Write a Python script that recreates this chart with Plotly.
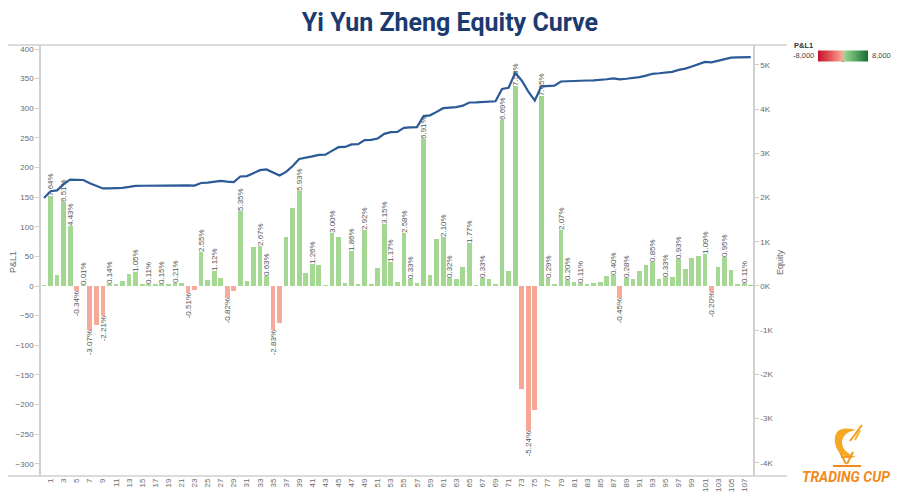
import numpy as np
import plotly.graph_objects as go

# ---------------- data ----------------
trade_idx = list(range(109))
pnl = [1, 152, 19, 141, 102, -8, 0.2, -74, -66, -50,
       3, 2, 9, 20, 23.5, 3, 2.5, 2, 3.4, 4,
       4.8, 5, -11.7, -6, 58, 10, 26, 14, -19.5, -9,
       126, 9, 66, 68, 16.5, -74.6, -63, 83, 131, 161,
       22, 36.5, 35, 1, 89, 83, 5, 58.5, 4, 93.7,
       4, 31, 105, 40, 6, 90, 11.8, 5, 248, 18,
       79, 82.7, 12.9, 12, 31.5, 72, 1, 13.7, 11, 2,
       280, 26, 338, -174, -244, -209, 321, 13, 3, 94,
       9.3, 6, 5.1, 2, 4.5, 7, 17, 18.7, -21, 13,
       12, 25, 35.4, 40.5, 12, 16, 16, 45, 28, 48,
       50, 54.7, -10, 31.5, 48.4, 27, 3.4, 5.7, 1]
start_equity = 1990

label_bars = [1, 3, 4, 5, 6, 7, 9, 10, 14, 16, 18, 20, 22, 24, 26, 28, 30, 33, 34, 35,
              39, 41, 44, 47, 49, 52, 53, 55, 56, 58, 61, 62, 65, 67, 70, 72, 74, 76, 77,
              79, 80, 82, 87, 88, 89, 93, 95, 97, 101, 102, 104, 107]
label_pcts = [7.64, 6.51, 4.43, -0.34, 0.01, -3.07, -2.21, 0.14, 1.05, 0.11, 0.15, 0.21,
              -0.51, 2.55, 1.12, -0.82, 5.35, 2.67, 0.63, -2.83, 5.93, 1.26, 3.00, 1.86,
              2.92, 3.15, 1.17, 2.58, 0.33, 6.91, 2.10, 0.32, 1.77, 0.33, 6.69, 7.53,
              -5.24, 7.65, 0.29, 2.07, 0.20, 0.11, 0.40, -0.45, 0.28, 0.85, 0.33, 0.93,
              1.09, -0.20, 0.95, 0.11]

x_tickvals = list(range(1, 108, 2))
x_ticktext = [str(v) for v in x_tickvals]
left_tickvals = list(range(-300, 401, 50))
right_tickvals = list(range(-4000, 5001, 1000))
right_ticktext = [f"{v // 1000}K" for v in right_tickvals]

equity = start_equity + np.cumsum(pnl)
bar_text = [""] * len(trade_idx)
for b, p in zip(label_bars, label_pcts):
    bar_text[b] = f"{p:.2f}%"

# ---------------- geometry helpers ----------------
# page body has an 8px margin, so the figure is drawn 8px in from the window edge
OFF = 8
W, H = 900 - 2 * OFF, 500 - 2 * OFF
L, R, T, B = 41 - OFF, 753 - OFF, 45 - OFF, 476 - OFF
def px(xp):  # window pixel -> paper x
    return (xp - OFF - L) / (R - L)
def py(yp):  # window pixel -> paper y
    return (B - (yp - OFF)) / (B - T)

FONT = "Liberation Sans, Arial, sans-serif"
GREY = "#6b6b6b"
AXC = "#cfcfcf"

colorscale = [[0.0, "#c3102c"], [0.25, "#e4575a"], [0.4999, "#f6ab9b"],
              [0.5, "#a6d993"], [0.75, "#57a862"], [1.0, "#1b6a32"]]

fig = go.Figure()
fig.add_trace(go.Bar(
    x=trade_idx, y=pnl, width=0.72, name="P&L1",
    marker=dict(color=pnl, colorscale=colorscale, cmin=-8000, cmax=8000,
                line=dict(width=0), showscale=True,
                colorbar=dict(orientation="h", xref="paper", yref="paper",
                              x=px(843), y=py(55.5), xanchor="center", yanchor="middle",
                              len=50, lenmode="pixels", thickness=11, thicknessmode="pixels",
                              outlinewidth=0, showticklabels=False, ticks="",
                              xpad=0, ypad=0)),
    text=bar_text, textposition="outside", textangle=-90,
    textfont=dict(family=FONT, size=8, color="#555555"),
    constraintext="none", cliponaxis=False, yaxis="y",
))
fig.add_trace(go.Scatter(
    x=trade_idx, y=equity, mode="lines", name="Equity",
    line=dict(color="#2c5a96", width=2.2), yaxis="y2",
))

shapes = [
    dict(type="line", xref="paper", yref="paper", x0=px(8), x1=px(787), y0=1, y1=1,
         line=dict(color=AXC, width=1.5)),
    dict(type="line", xref="paper", yref="paper", x0=px(8), x1=px(787), y0=0, y1=0,
         line=dict(color=AXC, width=1.5)),
    dict(type="line", xref="paper", yref="paper", x0=px(843), x1=px(843), y0=py(59), y1=py(62),
         line=dict(color="#222222", width=1.5)),
]
# logo (decorative)
def pth(points):
    s = ""
    for cmd, pts in points:
        s += cmd + " " + " ".join(f"{px(a):.5f},{py(b):.5f}" for a, b in pts) + " "
    return s + "Z"
shapes.append(dict(type="path", xref="paper", yref="paper",
                   path=pth([("M", [(856, 430)]), ("Q", [(833, 424), (835, 443)]),
                             ("Q", [(838, 459), (856, 457)]), ("Q", [(842, 452), (842, 442)]),
                             ("Q", [(843, 432), (856, 430)])]),
                   fillcolor="#f7a823", line=dict(width=0)))
for (x0, y0, x1, y1, c) in [(850, 441, 862, 425, "#f39a1e"), (855, 440, 860, 430, "#f7b52c"),
                             (840, 452, 846, 464, "#f29a22"), (853, 452, 847, 464, "#f29a22"),
                             (841, 457, 852, 457, "#f29a22"), (833, 466, 861, 466, "#f08a1c")]:
    shapes.append(dict(type="line", xref="paper", yref="paper", x0=px(x0), y0=py(y0),
                       x1=px(x1), y1=py(y1), line=dict(color=c, width=2)))

def ann(text, x, y, xa="center", size=8, color="#444444", family=FONT, angle=0):
    return dict(text=text, x=px(x), y=py(y), xref="paper", yref="paper",
                xanchor=xa, yanchor="middle", textangle=angle, showarrow=False,
                font=dict(family=family, size=size, color=color))

annotations = [
    ann("P&L1", 13, 262, size=9, color=GREY, angle=-90),
    ann("Equity", 780, 262, size=9, color=GREY, angle=-90),
    ann("<b>P&L1</b>", 792, 45.5, xa="left", size=7.5, color="#333333"),
    ann("-8,000", 816, 55.5, xa="right", size=7.5),
    ann("8,000", 870, 55.5, xa="left", size=7.5),
    ann("<b><i>TRADING CUP</i></b>", 892, 477, xa="right", size=14, color="#f08a1c",
        family="Roboto, Arial, sans-serif"),
]

fig.update_layout(
    width=W, height=H, template="none",
    margin=dict(l=L, r=W - R, t=T, b=H - B, pad=0, autoexpand=False),
    paper_bgcolor="white", plot_bgcolor="white",
    showlegend=False, bargap=0,
    title=dict(text="<b>Yi Yun Zheng Equity Curve</b>", x=0.5, xref="container", xanchor="center",
               y=1 - (22.5 - OFF) / H, yref="container", yanchor="middle",
               font=dict(family="Roboto, Arial, sans-serif", size=25, color="#1b3a70")),
    xaxis=dict(range=[-0.46, 108.35], tickvals=x_tickvals, ticktext=x_ticktext, tickangle=-90,
               showgrid=False, zeroline=False, showline=False, ticks="", automargin=False,
               tickfont=dict(family=FONT, size=8, color=GREY)),
    yaxis=dict(range=[-320.7, 406.8], tickvals=left_tickvals, showgrid=False, zeroline=False,
               showline=True, linecolor=AXC, linewidth=1.5, ticks="outside", ticklen=4,
               tickcolor=AXC, automargin=False,
               tickfont=dict(family=FONT, size=8, color=GREY)),
    yaxis2=dict(range=[-4299, 5452], tickvals=right_tickvals, ticktext=right_ticktext,
                overlaying="y", side="right", showgrid=False, zeroline=False,
                showline=True, linecolor=AXC, linewidth=1.5, ticks="outside", ticklen=4,
                tickcolor=AXC, automargin=False,
                tickfont=dict(family=FONT, size=8, color=GREY)),
    shapes=shapes, annotations=annotations,
)

fig.write_html("out.html")
